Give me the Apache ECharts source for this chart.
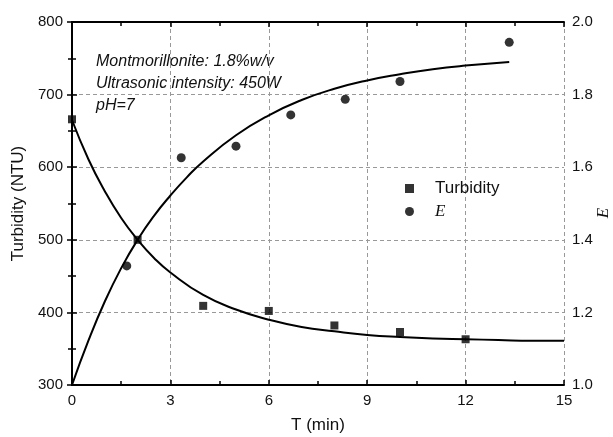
<!DOCTYPE html>
<html>
<head>
<meta charset="utf-8">
<script src="https://cdn.jsdelivr.net/npm/echarts@6/dist/echarts.min.js"></script>
<style>
  html, body { margin: 0; padding: 0; background: #fff; }
  #chart { width: 613px; height: 437px; }
</style>
</head>
<body>
<div id="chart"></div>
<script>
// Measured turbidity (NTU) vs sonication time (min)
const timeTurb = [0, 2, 4, 6, 8, 10, 12];
const turbidity = [666, 500, 409, 402, 382, 373, 363];

// Measured E vs sonication time (min)
const timeE = [1.67, 3.33, 5, 6.67, 8.33, 10, 13.33];
const effE = [1.328, 1.626, 1.658, 1.744, 1.787, 1.836, 1.944];

// Fitted curve for turbidity
const fitTurbT = [0, 0.5, 1, 1.5, 2, 2.5, 3, 4, 5, 6, 7, 8, 9, 10, 11, 12, 13, 14, 15];
const fitTurb = [665, 611, 567, 530, 500, 475, 455, 424, 404, 390, 380, 374, 369, 366, 364, 363, 362, 361, 361];

// Fitted curve for E
const fitET = [0, 0.5, 1, 1.5, 2, 2.5, 3, 3.5, 4, 5, 6, 7, 8, 9, 10, 11, 12, 13.33];
const fitE = [1.000, 1.122, 1.230, 1.322, 1.400, 1.466, 1.522, 1.572, 1.616, 1.688, 1.743, 1.785, 1.816, 1.839, 1.856, 1.870, 1.880, 1.890];

// Axis ticks
const xTicks = [0, 3, 6, 9, 12, 15];
const leftTicks = [300, 400, 500, 600, 700, 800];
const rightTicks = [1.0, 1.2, 1.4, 1.6, 1.8, 2.0];

const FONT = 'Arial, "Liberation Sans", sans-serif';
const SERIF = '"Times New Roman", "Liberation Serif", serif';
const pairs = (xs, ys) => xs.map((x, i) => [x, ys[i]]);

const axisLineStyle = { show: true, lineStyle: { color: '#000', width: 2 } };
const tickStyle = { show: true, inside: true, length: 5, lineStyle: { color: '#000', width: 1.5 } };
const minorStyle = { show: true, splitNumber: 2, length: 4, lineStyle: { color: '#000', width: 1.5 } };
const labelStyle = { color: '#111', fontSize: 15, fontFamily: FONT };
const gridLine = { show: true, lineStyle: { color: '#999', width: 1, type: [4, 3] } };

const step = a => a[1] - a[0];

const chart = echarts.init(document.getElementById('chart'), null, { renderer: 'canvas' });

chart.setOption({
  animation: false,
  backgroundColor: '#fff',
  grid: { left: 72, right: 49, top: 22, bottom: 52, containLabel: false, outerBoundsMode: 'none' },
  xAxis: [
    {
      type: 'value', position: 'bottom',
      min: xTicks[0], max: xTicks[xTicks.length - 1], interval: step(xTicks),
      axisLine: axisLineStyle, axisTick: tickStyle, minorTick: minorStyle,
      axisLabel: Object.assign({ margin: 8 }, labelStyle),
      splitLine: gridLine,
      name: 'T (min)', nameLocation: 'middle', nameGap: 32,
      nameTextStyle: { color: '#111', fontSize: 17, fontFamily: FONT }
    },
    {
      type: 'value', position: 'top',
      min: xTicks[0], max: xTicks[xTicks.length - 1], interval: step(xTicks),
      axisLine: axisLineStyle, axisTick: tickStyle, minorTick: minorStyle,
      axisLabel: { show: false }, splitLine: { show: false }
    }
  ],
  yAxis: [
    {
      type: 'value', position: 'left',
      min: leftTicks[0], max: leftTicks[leftTicks.length - 1], interval: step(leftTicks),
      axisLine: axisLineStyle, axisTick: tickStyle, minorTick: minorStyle,
      axisLabel: Object.assign({ margin: 9 }, labelStyle),
      splitLine: gridLine,
      name: 'Turbidity (NTU)', nameLocation: 'middle', nameGap: 45, nameRotate: 90,
      nameTextStyle: { color: '#111', fontSize: 17, fontFamily: FONT }
    },
    {
      type: 'value', position: 'right',
      min: rightTicks[0], max: rightTicks[rightTicks.length - 1], interval: 0.2,
      axisLine: axisLineStyle, axisTick: tickStyle, minorTick: minorStyle,
      axisLabel: Object.assign({ margin: 8, formatter: v => v.toFixed(1) }, labelStyle),
      splitLine: { show: false }
    }
  ],
  legend: {
    orient: 'vertical', left: 400, top: 175,
    itemWidth: 9, itemHeight: 9, itemGap: 6,
    data: [
      { name: 'Turbidity', icon: 'rect' },
      { name: 'E', icon: 'circle' }
    ],
    formatter: n => n === 'E' ? '{e|E}' : n,
    textStyle: {
      color: '#111', fontSize: 17, fontFamily: FONT, padding: [0, 0, 0, 16], lineHeight: 17,
      rich: { e: { fontSize: 17, fontStyle: 'italic', fontFamily: SERIF, lineHeight: 17 } }
    }
  },
  graphic: [
    { type: 'text', left: 96, top: 54, style: { text: 'Montmorillonite: 1.8%w/v', font: 'italic 16px ' + FONT, fill: '#111' } },
    { type: 'text', left: 96, top: 76, style: { text: 'Ultrasonic intensity: 450W', font: 'italic 16px ' + FONT, fill: '#111' } },
    { type: 'text', left: 96, top: 98, style: { text: 'pH=7', font: 'italic 16px ' + FONT, fill: '#111' } },
    // right-hand axis title
    {
      type: 'text', x: 604, y: 213, rotation: Math.PI / 2,
      style: { text: 'E', font: 'italic 17px ' + SERIF, fill: '#111', align: 'center', verticalAlign: 'middle' }
    }
  ],
  series: [
    {
      name: 'Turbidity fit', type: 'line', xAxisIndex: 0, yAxisIndex: 0,
      data: pairs(fitTurbT, fitTurb), smooth: 0.5, showSymbol: false, symbol: 'none',
      lineStyle: { color: '#000', width: 2 }, silent: true, z: 2
    },
    {
      name: 'E fit', type: 'line', xAxisIndex: 0, yAxisIndex: 1,
      data: pairs(fitET, fitE), smooth: 0.5, showSymbol: false, symbol: 'none',
      lineStyle: { color: '#000', width: 2 }, silent: true, z: 2
    },
    {
      name: 'Turbidity', type: 'scatter', xAxisIndex: 0, yAxisIndex: 0,
      data: pairs(timeTurb, turbidity), symbol: 'rect', symbolSize: 8,
      itemStyle: { color: '#000' }, clip: false, z: 3
    },
    {
      name: 'E', type: 'scatter', xAxisIndex: 0, yAxisIndex: 1,
      data: pairs(timeE, effE), symbol: 'circle', symbolSize: 9,
      itemStyle: { color: '#000' }, clip: false, z: 3
    }
  ]
});
</script>
</body>
</html>
